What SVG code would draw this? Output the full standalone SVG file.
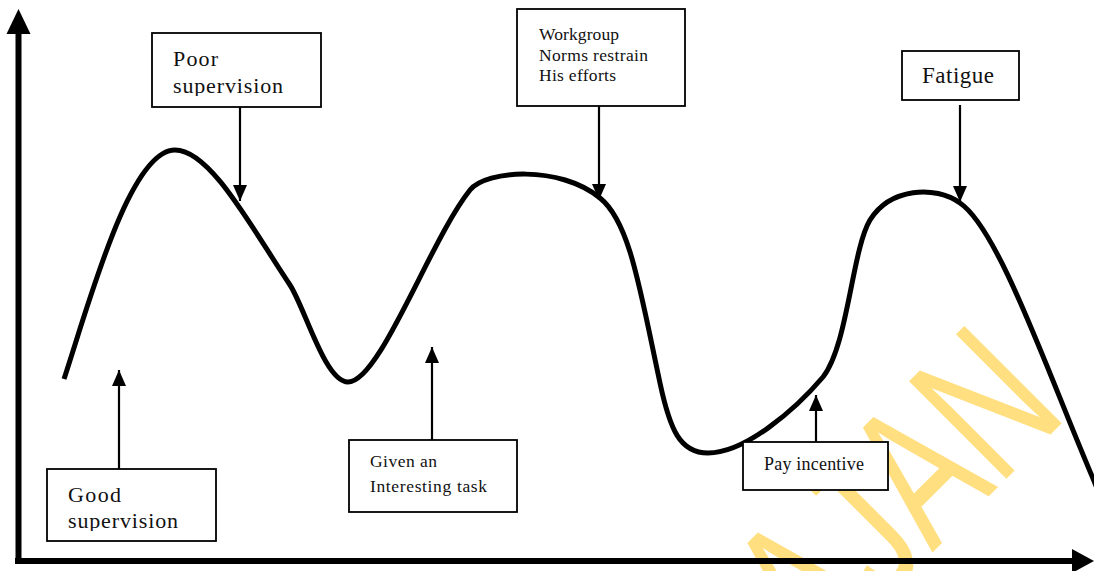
<svg xmlns="http://www.w3.org/2000/svg" width="1094" height="571" viewBox="0 0 1094 571">
<style>
.box{fill:#fff;stroke:#000;stroke-width:1.8}
.t{font-family:"Liberation Serif","Times New Roman",serif;fill:#111}
.conn{stroke:#000;stroke-width:2.2;fill:none}
.axis{stroke:#000;stroke-width:6;fill:none}
.curve{stroke:#000;stroke-width:5;fill:none;stroke-linecap:butt}
.wm{font-family:"Liberation Sans",Arial,sans-serif;fill:#FFDF80}
</style>
<defs>
<marker id="ah" markerUnits="userSpaceOnUse" markerWidth="16" markerHeight="16" viewBox="0 0 16 16" refX="16" refY="8" orient="auto">
<path d="M0,1 L16,8 L0,15 Z" fill="#000"/>
</marker>
<clipPath id="clipPoor"><rect x="150" y="30" width="175" height="66"/></clipPath>
<clipPath id="clipGood"><rect x="45" y="466" width="175" height="65"/></clipPath>
</defs>
<rect width="1094" height="571" fill="#fff"/>
<g id="watermark">
<text class="wm" font-size="200" text-anchor="end" transform="translate(1040,445) rotate(-45) scale(0.7,1)" x="60" y="0">AJAN</text>
</g>
<g id="axes">
<line class="axis" x1="18.5" y1="32" x2="18.5" y2="564"/>
<path d="M18.5,9 L6.5,34 L30.5,34 Z" fill="#000"/>
<line class="axis" x1="15" y1="561" x2="1074" y2="561"/>
<path d="M1094,561 L1072,549 L1072,573 Z" fill="#000"/>
</g>
<g id="curve">
<path class="curve" d="M64,379 C90,300 130,150 175,150 C210,150 250,225 290,285 C305,308 325,382 348,382 C380,382 430,240 470,190 C486,170 560,165 600,198 C630,222 640,290 660,383 C670,430 680,453 708,453 C745,453 795,410 823,377 C848,345 852,250 870,220 C890,188 935,185 960,203 C1000,230 1050,380 1100,495"/>
</g>
<g id="connectors">
<line class="conn" x1="240" y1="107" x2="240" y2="201" marker-end="url(#ah)"/>
<line class="conn" x1="599" y1="106" x2="599" y2="200" marker-end="url(#ah)"/>
<line class="conn" x1="960" y1="105" x2="960" y2="202" marker-end="url(#ah)"/>
<line class="conn" x1="119" y1="469" x2="119" y2="370" marker-end="url(#ah)"/>
<line class="conn" x1="432" y1="440" x2="432" y2="347" marker-end="url(#ah)"/>
<line class="conn" x1="816" y1="442" x2="816" y2="395" marker-end="url(#ah)"/>
</g>
<g id="poor-supervision">
<rect class="box" x="152" y="33" width="169" height="74"/>
<g clip-path="url(#clipPoor)">
<text class="t" font-size="22" x="173" y="66" textLength="45">Poor</text>
<text class="t" font-size="22" x="173" y="93" textLength="110">supervision</text>
</g>
</g>
<g id="workgroup-norms">
<rect class="box" x="517" y="9" width="168" height="97"/>
<text class="t" font-size="17.5" x="539" y="39.5" textLength="80">Workgroup</text>
<text class="t" font-size="17.5" x="539" y="60.5" textLength="109">Norms restrain</text>
<text class="t" font-size="17.5" x="539" y="81" textLength="77">His efforts</text>
</g>
<g id="fatigue">
<rect class="box" x="902" y="51" width="117" height="49"/>
<text class="t" font-size="23" x="922" y="83" textLength="72">Fatigue</text>
</g>
<g id="good-supervision">
<rect class="box" x="47" y="469" width="169" height="72"/>
<g clip-path="url(#clipGood)">
<text class="t" font-size="22" x="68" y="502" textLength="53">Good</text>
<text class="t" font-size="22" x="68" y="528" textLength="110">supervision</text>
</g>
</g>
<g id="interesting-task">
<rect class="box" x="349" y="440" width="168" height="72"/>
<text class="t" font-size="17.5" x="370" y="467" textLength="67">Given an</text>
<text class="t" font-size="17.5" x="370" y="492" textLength="117">Interesting task</text>
</g>
<g id="pay-incentive">
<rect class="box" x="743" y="442" width="145" height="48"/>
<text class="t" font-size="18" x="764" y="470" textLength="100">Pay incentive</text>
</g>
</svg>
